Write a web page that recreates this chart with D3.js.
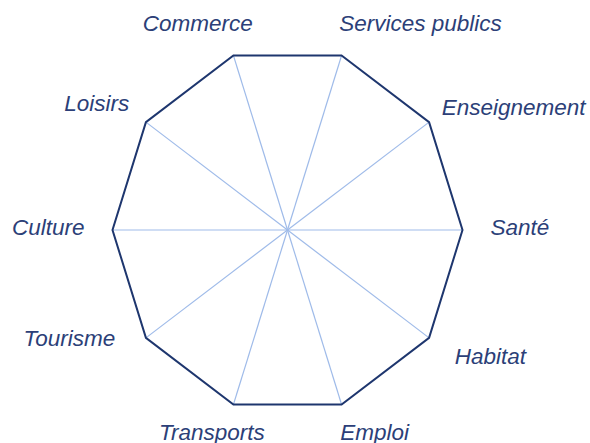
<!DOCTYPE html>
<html><head><meta charset="utf-8">
<script src="https://cdn.jsdelivr.net/npm/d3@7"></script>
<style>html,body{margin:0;padding:0;background:#fff;}svg{display:block;}</style>
</head><body>
<svg id="chart" width="590" height="443"></svg>
<script>
const categories = ["Services publics","Enseignement","Santé","Habitat","Emploi","Transports","Tourisme","Culture","Loisirs","Commerce"];
const values = [100,100,100,100,100,100,100,100,100,100];
const maxValue = 100;

// layout (not data)
const W = 590, H = 443, cx = 287.5, cy = 230;
const rx = d3.scaleLinear().domain([0, maxValue]).range([0, 175]);
const ry = d3.scaleLinear().domain([0, maxValue]).range([0, 183.5]);
const labelR = 116; // label radius in value units
const labelNudge = [[-11,-4],[-10,3],[0,-3],[3,1],[-10,0],[40,0],[-8,-17],[0,-3],[6,-1],[28,-4]];

const n = categories.length;
const angle = i => (18 + 36 * i) * Math.PI / 180; // clockwise from vertical
const px = (i, v) => cx + rx(v) * Math.sin(angle(i));
const py = (i, v) => cy - ry(v) * Math.cos(angle(i));

const svg = d3.select("#chart");

// spokes
svg.append("g").selectAll("line").data(categories).join("line")
  .attr("x1", cx).attr("y1", cy)
  .attr("x2", (d, i) => px(i, maxValue)).attr("y2", (d, i) => py(i, maxValue))
  .attr("stroke", "#9fbbe9").attr("stroke-width", 1.2);

// outline
const line = d3.line().x(d => d[0]).y(d => d[1]).curve(d3.curveLinearClosed);
svg.append("path")
  .datum(values.map((v, i) => [px(i, v), py(i, v)]))
  .attr("d", line)
  .attr("fill", "none").attr("stroke", "#1e366e").attr("stroke-width", 2)
  .attr("stroke-linejoin", "miter");

// labels
svg.append("g").selectAll("text").data(categories).join("text")
  .attr("x", (d, i) => px(i, labelR) + labelNudge[i][0])
  .attr("y", (d, i) => py(i, labelR) + labelNudge[i][1])
  .attr("text-anchor", (d, i) => { const s = Math.sin(angle(i)); return s > 0.01 ? "start" : (s < -0.01 ? "end" : "middle"); })
  .attr("dominant-baseline", "central")
  .attr("font-family", "'Liberation Sans', Arial, sans-serif")
  .attr("font-style", "italic")
  .attr("font-size", 22.5)
  .attr("fill", "#2c3f78")
  .text(d => d);
</script>
</body></html>
